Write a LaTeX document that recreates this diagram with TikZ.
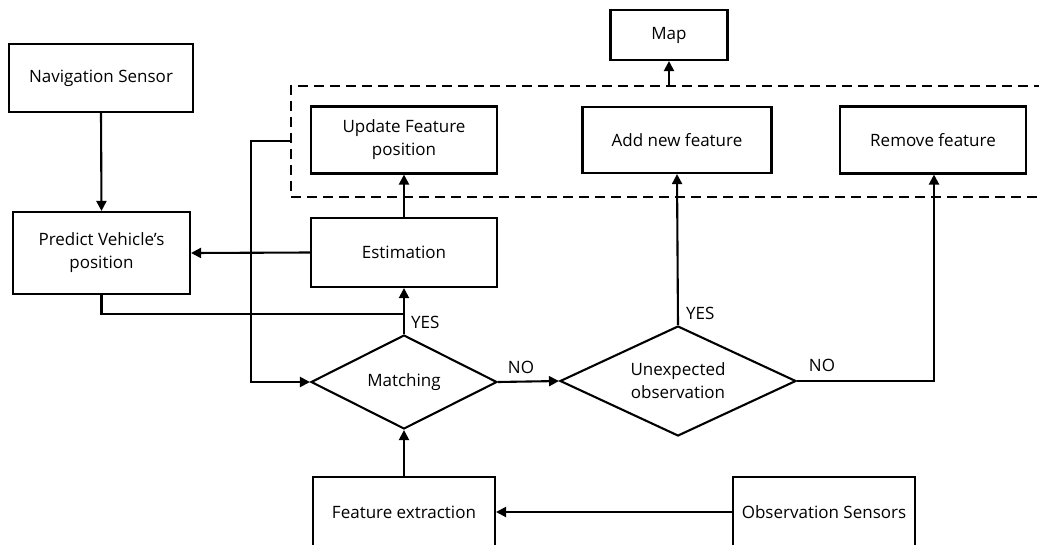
\documentclass[tikz,border=0pt]{standalone}
\usepackage{fontspec}
\setmainfont{Open Sans}
\usetikzlibrary{arrows.meta,shapes.geometric}
\begin{document}
\begin{tikzpicture}[x=1pt,y=-1pt,
  every node/.style={font=\fontsize{17}{23}\selectfont, text=black},
  box/.style={draw=black, line width=2.1pt, rectangle, inner sep=0pt, align=center},
  dec/.style={draw=black, line width=2.1pt, diamond, inner sep=0pt, align=center},
  lbl/.style={inner sep=0pt},
  wire/.style={line width=2.1pt},
  arr/.style={wire, -{Triangle[length=10pt,width=10pt]}},
  grp/.style={line width=2.1pt, dash pattern=on 10pt off 6pt}]
\useasboundingbox (0,0) rectangle (1039,544);
\clip (0,0) rectangle (1039,544);
\fill[white] (0,0) rectangle (1039,544);

% stored map and its update operations
\node[box, minimum width=117pt, minimum height=50pt] (map) at (669,35) {Map};
\draw[grp] (1060,86) -- (291,86) -- (291,197) -- (1060,197);
\coordinate (grpTop) at (669,86);
\coordinate (grpLeft) at (291,141);
\node[box, minimum width=186pt, minimum height=67pt] (upd) at (404,140) {Update Feature\\position};
\node[box, minimum width=189pt, minimum height=66pt] (add) at (677,140) {Add new feature};
\node[box, minimum width=186pt, minimum height=67pt] (rem) at (933,140) {Remove feature};

% prediction and estimation
\node[box, minimum width=184pt, minimum height=68pt] (nav) at (101,78) {Navigation Sensor};
\node[box, minimum width=177pt, minimum height=82pt] (pred) at (101.5,253) {Predict Vehicle’s\\position};
\node[box, minimum width=186pt, minimum height=69pt] (est) at (404,252.5) {Estimation};

% decisions
\node[dec, shape aspect=1.98, minimum width=186pt, minimum height=94pt] (match) at (404,382) {Matching};
\node[dec, shape aspect=2.145, minimum width=236pt, minimum height=110pt] (unexp) at (678,381) {Unexpected\\observation};

% sensing
\node[box, minimum width=182pt, minimum height=70pt] (feat) at (404,512) {Feature extraction};
\node[box, minimum width=182pt, minimum height=70pt] (obs) at (824,512) {Observation Sensors};

\coordinate (merge) at (404,314);
\coordinate (remTurn) at (934,381);

% connectors
\draw[arr] (nav.south) -- (pred.north);
\draw[arr] (est.west) -- (pred.east);
\draw[arr] (est.north) -- (upd.south);
\draw[arr] (grpTop) -- (map.south);
\draw[wire] (pred.south) |- (merge);
\draw[arr] (grpLeft) -- (251,141) |- (match.west);
\draw[arr] (match.north) -- (est.south);
\draw[arr] (match.east) -- (unexp.west);
\draw[arr] (unexp.north) -- (add.south);
\draw[arr] (unexp.east) -- (remTurn) -- (rem.south -| remTurn);
\draw[arr] (feat.north) -- (match.south);
\draw[arr] (obs.west) -- (feat.east);

% branch labels
\node[lbl, anchor=west] (yes1) at (411,322) {YES};
\node[lbl, anchor=west] (yes2) at (686,313) {YES};
\node[lbl] (no1) at (521,367) {NO};
\node[lbl] (no2) at (822,365) {NO};
\end{tikzpicture}
\end{document}
